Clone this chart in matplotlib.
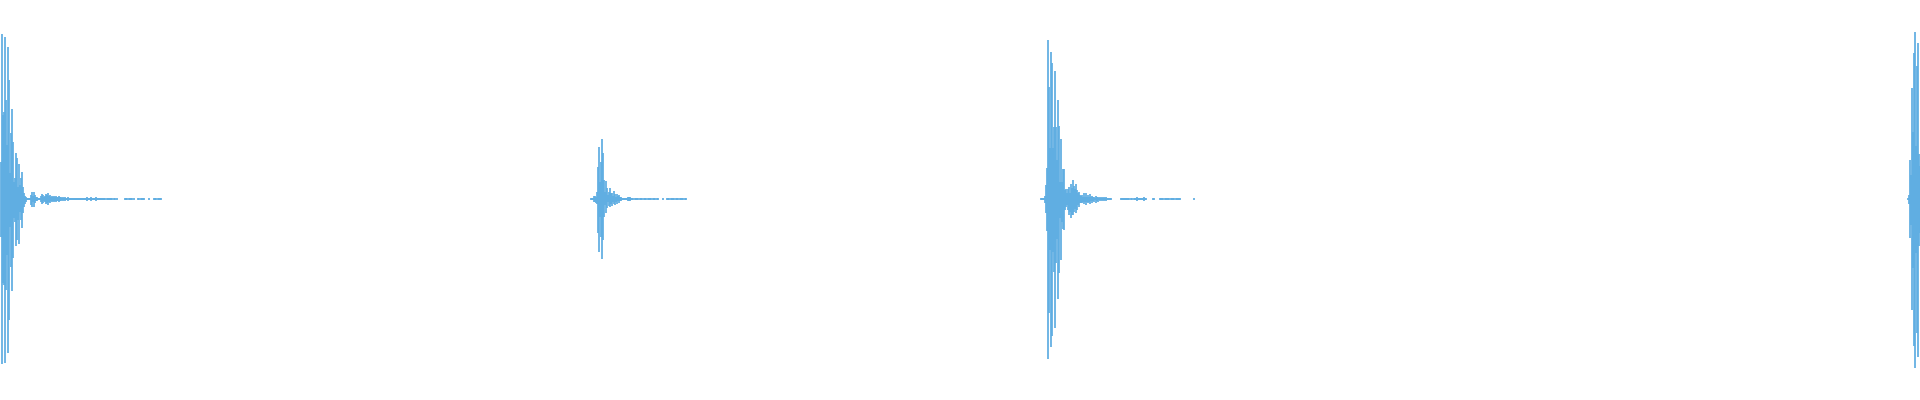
import numpy as np
from matplotlib import pyplot as plt

# waveform bursts: start column, top / bottom amplitude per column (px units),
# then a symmetric low-level tail (0 = nothing drawn)
b1_x0 = 0
b1_top = [37, 165, 84, 87, 162, 99, 54, 152, 119, 26, 66, 90, 57, 17, 21, 46, 41, 12, 35, 14,
          21, 27, 12, 6, 3, 2, 1, 1, 1, 1, 4, 7, 3, 7, 4, 2, 2, 1, 1, 1]
b1_bot = [38, 165, 84, 86, 164, 91, 56, 154, 121, 28, 68, 92, 59, 19, 23, 47, 41, 21, 45, 13,
          21, 29, 14, 8, 5, 3, 1, 1, 1, 1, 6, 8, 3, 8, 4, 2, 2, 1, 1, 1]
b1_tail = [3, 5, 4, 2, 3, 5, 4, 6, 3, 4, 2, 3,
           2, 3, 2, 3, 2, 2, 3, 2, 2,
           1, 2, 1, 2, 1, 1, 2, 1, 1, 1, 1, 1,
           1, 1, 1, 1, 1, 1, 1, 1, 1, 1, 1, 1,
           1, 2, 1, 1, 1, 2, 1, 1, 1, 1, 2, 1, 1, 1, 1,
           1, 1, 1, 1, 1, 0, 1, 1, 1, 1, 1, 1,
           0, 1, 1, 0, 1,
           0, 0, 0, 0, 0, 0, 0,
           1, 1, 1, 0, 1, 1, 1, 1, 0, 1,
           0, 0, 0,
           1, 1, 0, 1, 1, 1, 1,
           0, 0, 0, 0,
           1,
           0, 0, 0, 0,
           1, 1, 1, 0, 1, 1, 1, 1]

b2_x0 = 590
b2_top = [1, 1, 1, 3, 3, 2, 7, 32, 52, 17, 37, 60, 46, 19, 7, 18, 11, 4, 7, 11,
          6, 6, 3, 8, 5, 2, 5, 3, 4, 2, 2, 1, 1, 1, 1]
b2_bot = [1, 1, 1, 3, 3, 4, 5, 34, 53, 18, 38, 60, 41, 18, 6, 14, 9, 3, 7, 8,
          5, 7, 3, 5, 6, 3, 5, 2, 4, 2, 2, 1, 1, 1, 1]
b2_tail = [1, 1, 2, 2, 2, 1, 1, 1, 0,
           1, 1, 1, 1, 0, 1, 1, 1, 0, 1, 1, 1, 0, 1, 1, 1, 1, 0, 1, 1, 1, 0, 1, 1,
           0, 0, 0, 0,
           1,
           0, 0, 0,
           1, 1, 1, 0, 1, 1, 1, 1, 0, 1, 1, 1, 0, 1, 1, 1, 1, 0, 1, 1]

b3_x0 = 1040
b3_top = [1, 1, 1, 1,
          3, 14, 31, 159, 112, 51, 147, 136, 51, 72,
          128, 72, 39, 99, 73, 17, 60, 17, 30, 30,
          9, 10, 6, 10, 12, 6, 15, 11, 19, 13,
          10, 15, 9, 6, 7, 4,
          3, 4, 2, 6, 2, 6, 2, 4, 2, 5,
          2, 3, 2, 2, 1, 3, 2, 2, 1, 2,
          1, 2, 1, 2, 1, 2]
b3_bot = [1, 1, 1, 1,
          4, 14, 32, 160, 114, 51, 148, 137, 53, 73,
          129, 64, 40, 100, 74, 19, 61, 23, 30, 31,
          11, 8, 6, 11, 16, 13, 19, 16, 16, 13,
          10, 14, 11, 6, 8, 4,
          4, 4, 3, 5, 3, 6, 3, 4, 3, 5,
          2, 4, 2, 3, 1, 4, 2, 3, 1, 2,
          1, 2, 1, 2, 1, 2]
b3_tail = [1, 1, 1, 1, 1, 0,
           0, 0, 0, 0, 0, 0, 0, 0,
           1, 1, 1, 1, 1, 1, 1, 1, 1, 0, 1, 1, 0, 1, 1, 1, 2, 1, 1, 1, 1, 1, 1, 2, 1, 1,
           0, 0, 0, 0, 0, 0,
           1, 1, 0,
           0, 0, 0, 0,
           1, 1, 1, 1, 0, 1, 1, 1, 1, 1, 0, 1, 1, 1, 1, 0, 1, 1, 1, 1, 1,
           0, 0, 0, 0, 0, 0, 0, 0, 0, 0, 0, 0, 0,
           1]

b4_x0 = 1907
b4_top = [1, 4, 39, 24, 111, 67, 146, 167, 53, 133, 156, 45, 33]
b4_bot = [1, 5, 39, 26, 111, 69, 147, 169, 54, 134, 158, 47, 34]
b4_tail = []

bursts = [(b1_x0, b1_top, b1_bot, b1_tail),
          (b2_x0, b2_top, b2_bot, b2_tail),
          (b3_x0, b3_top, b3_bot, b3_tail),
          (b4_x0, b4_top, b4_bot, b4_tail)]

color = '#5eade2'

fig = plt.figure(figsize=(19.2, 4), dpi=100)
ax = fig.add_axes([0, 0, 1, 1])

for x0, top, bot, tail in bursts:
    top = np.array(top + tail, dtype=float)
    bot = np.array(bot + tail, dtype=float)
    xs = x0 + np.arange(len(top)) + 0.5
    keep = (top + bot) > 0
    ax.vlines(xs[keep], -bot[keep], top[keep], color=color, linewidth=1.25)

ax.set_xlim(0, 1920)
ax.set_ylim(-201, 199)
ax.axis('off')

fig.savefig('out.png', dpi=100, facecolor='white')
